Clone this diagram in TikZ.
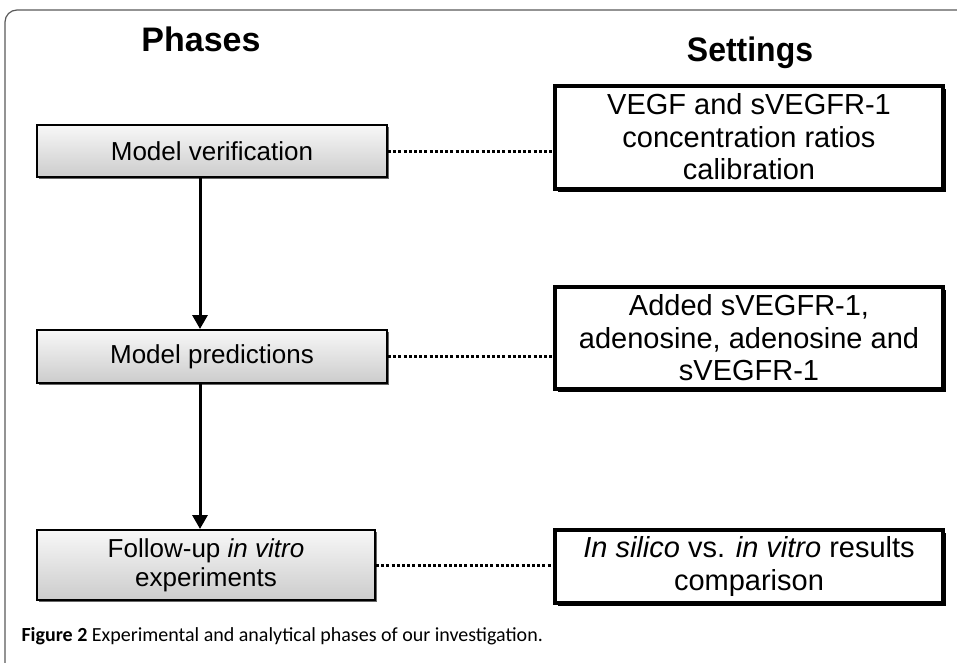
\documentclass[tikz,border=0pt]{standalone}
\usepackage{fontspec}
\setmainfont{Liberation Sans}
\newfontfamily\capfont{Carlito}
\usetikzlibrary{arrows.meta,shadows}
\begin{document}
\begin{tikzpicture}[x=1pt,y=-1pt,
  phasebox/.style={draw=black,line width=2pt,top color=gray!6,bottom color=gray!40,
    drop shadow={shadow xshift=2pt,shadow yshift=-2pt,fill=black!60,opacity=1},
    align=center,font=\fontsize{26}{29}\selectfont,inner sep=0pt},
  setbox/.style={draw=black,line width=4pt,fill=white,
    drop shadow={shadow xshift=3pt,shadow yshift=-3pt,fill=black,opacity=1},
    align=center,font=\fontsize{29}{32.5}\selectfont,inner sep=0pt},
  flowarrow/.style={line width=3pt,-{Triangle[length=14pt,width=15pt]}},
  dotline/.style={line width=3pt,dash pattern=on 3pt off 2.2pt},
  header/.style={font=\bfseries\fontsize{34}{36}\selectfont}]
\useasboundingbox (0,0) rectangle (957,662);
% frame
\draw[gray!70!black,line width=1.2pt,rounded corners=12pt] (5,670) -- (5,10) -- (970,10);
% headers
\node[header] (hp) at (201,39) {Phases};
\node[header,xscale=0.94] (hs) at (750,53) {Settings};
% phase boxes
\node[phasebox,minimum width=350pt,minimum height=52pt] (b1) at (212,151) {Model verification};
\node[phasebox,minimum width=350pt,minimum height=53pt] (b2) at (212,356.5) {Model predictions};
\node[phasebox,minimum width=338pt,minimum height=70pt] (b3) at (206,565) {Follow-up \textit{in vitro}\\experiments};
% settings boxes
\node[setbox,minimum width=388pt,minimum height=103pt] (r1) at (749,137) {VEGF and sVEGFR-1\\concentration ratios\\calibration};
\node[setbox,minimum width=388pt,minimum height=102pt] (r2) at (749,338) {Added sVEGFR-1,\\adenosine, adenosine and\\sVEGFR-1};
\node[setbox,minimum width=388pt,minimum height=73pt] (r3) at (749,566.5) {\textit{In silico} vs. \textit{in vitro} results\\comparison};
% arrows
\coordinate (ax) at (200,0);
\draw[flowarrow] (b1.south -| ax) -- (b2.north -| ax);
\draw[flowarrow] (b2.south -| ax) -- (b3.north -| ax);
% dotted links
\draw[dotline] (b1.east) -- (b1.east -| r1.west);
\draw[dotline] (b2.east) -- (b2.east -| r2.west);
\draw[dotline] (b3.east) -- (b3.east -| r3.west);
% caption
\node[anchor=west,font=\capfont\fontsize{20}{22}\selectfont] (cap) at (18,636) {\textbf{Figure 2} Experimental and analytical phases of our investigation.};
\end{tikzpicture}
\end{document}
